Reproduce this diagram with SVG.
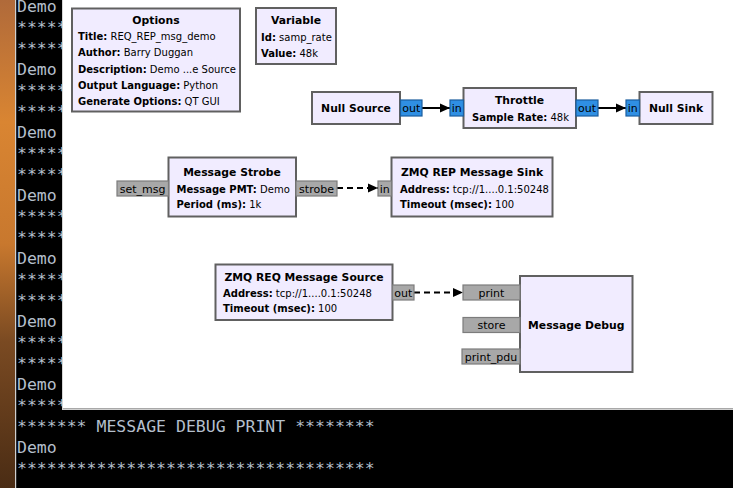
<svg xmlns="http://www.w3.org/2000/svg" width="733" height="488" viewBox="0 0 733 488">
<defs>
<linearGradient id="wall" x1="0" y1="0" x2="0" y2="1">
<stop offset="0" stop-color="#b06a3a"/>
<stop offset="0.25" stop-color="#d98532"/>
<stop offset="0.5" stop-color="#c8782e"/>
<stop offset="0.7" stop-color="#7a4a22"/>
<stop offset="1" stop-color="#4a2c14"/>
</linearGradient>
<marker id="ah" viewBox="0 0 10 10" refX="10" refY="5" markerWidth="10" markerHeight="10" markerUnits="userSpaceOnUse" orient="auto">
<path d="M0,0.5 L10,5 L0,9.5 z" fill="#000"/>
</marker>
<style>
.term{font-family:"DejaVu Sans Mono","Liberation Mono",monospace;font-size:16.5px;fill:#b4bfcc}
.blk{fill:#F1ECFF;stroke:#606060;stroke-width:2}
.t{font-family:"DejaVu Sans","Noto Sans",sans-serif;font-size:10px;fill:#000}
.b{font-weight:bold}
.ttl{font-weight:bold;text-anchor:middle;font-size:10.8px}
.mp{fill:#a8a8a8;stroke:#7c7c7c;stroke-width:1.2}
.sp{fill:#2f8fe3;stroke:#1b5e9e;stroke-width:1.2}
.pl{font-family:"DejaVu Sans","Noto Sans",sans-serif;font-size:11px;fill:#000;text-anchor:middle}
.c{fill:none;stroke:#000;stroke-width:2;marker-end:url(#ah)}
.d{stroke-dasharray:6,4}
</style>
</defs>
<rect x="0" y="0" width="733" height="488" fill="#000"/>
<rect x="0" y="0" width="15" height="488" fill="url(#wall)"/>
<rect x="15" y="0" width="1.2" height="488" fill="#cfcfcf"/>
<g id="terminal" class="term">
<text x="17" y="12">Demo</text>
<text x="17" y="32.7">*****</text>
<text x="17" y="53.7">*****</text>
<text x="17" y="74.7">Demo</text>
<text x="17" y="95.7">*****</text>
<text x="17" y="116.7">*****</text>
<text x="17" y="137.7">Demo</text>
<text x="17" y="158.7">*****</text>
<text x="17" y="179.7">*****</text>
<text x="17" y="200.7">Demo</text>
<text x="17" y="221.7">*****</text>
<text x="17" y="242.7">*****</text>
<text x="17" y="263.7">Demo</text>
<text x="17" y="284.7">*****</text>
<text x="17" y="305.7">*****</text>
<text x="17" y="326.7">Demo</text>
<text x="17" y="347.7">*****</text>
<text x="17" y="368.7">*****</text>
<text x="17" y="389.7">Demo</text>
<text x="17" y="410.7">*****</text>
<text x="17" y="431.7">******* MESSAGE DEBUG PRINT ********</text>
<text x="17" y="452.7">Demo</text>
<text x="17" y="473.7">************************************</text>
</g>
<rect x="63" y="0" width="670" height="408.5" fill="#fff"/>
<line x1="62.5" y1="0" x2="62.5" y2="409" stroke="#d6d6d6" stroke-width="1"/>
<line x1="62" y1="409.2" x2="733" y2="409.2" stroke="#d0d0d0" stroke-width="1.5"/>

<g id="connectors">
<line class="c" x1="422" y1="108" x2="450" y2="108"/>
<line class="c" x1="598" y1="108" x2="626" y2="108"/>
<line class="c d" x1="337" y1="188" x2="378" y2="188"/>
<line class="c d" x1="414" y1="292.5" x2="463" y2="292.5"/>
</g>

<g id="options">
<rect class="blk" x="72" y="8.5" width="168" height="103"/>
<text class="t ttl" x="156" y="24">Options</text>
<text class="t" x="78" y="39.5"><tspan class="b">Title:</tspan> REQ_REP_msg_demo</text>
<text class="t" x="78" y="56"><tspan class="b">Author:</tspan> Barry Duggan</text>
<text class="t" x="78" y="72.5"><tspan class="b">Description:</tspan> Demo ...e Source</text>
<text class="t" x="78" y="89"><tspan class="b">Output Language:</tspan> Python</text>
<text class="t" x="78" y="104.5"><tspan class="b">Generate Options:</tspan> QT GUI</text>
</g>

<g id="variable">
<rect class="blk" x="256" y="8" width="80" height="56"/>
<text class="t ttl" x="296" y="24">Variable</text>
<text class="t" x="261" y="40.5"><tspan class="b">Id:</tspan> samp_rate</text>
<text class="t" x="261" y="56.5"><tspan class="b">Value:</tspan> 48k</text>
</g>

<g id="null_source">
<rect class="blk" x="312" y="92" width="88" height="32"/>
<text class="t ttl" x="356" y="112">Null Source</text>
<rect class="sp" x="400.5" y="100" width="21.5" height="16"/>
<text class="pl" x="411.3" y="112">out</text>
</g>

<g id="throttle">
<rect class="blk" x="463.5" y="88" width="112.5" height="40"/>
<text class="t ttl" x="519.5" y="104">Throttle</text>
<text class="t" x="472" y="120.5"><tspan class="b">Sample Rate:</tspan> 48k</text>
<rect class="sp" x="450" y="100" width="13.5" height="16"/>
<text class="pl" x="456.7" y="112">in</text>
<rect class="sp" x="576" y="100" width="22" height="16"/>
<text class="pl" x="587" y="112">out</text>
</g>

<g id="null_sink">
<rect class="blk" x="639.5" y="92" width="73" height="32"/>
<text class="t ttl" x="676" y="112">Null Sink</text>
<rect class="sp" x="626" y="100" width="13.5" height="16"/>
<text class="pl" x="632.7" y="112">in</text>
</g>

<g id="message_strobe">
<rect class="blk" x="168.5" y="157.5" width="127.5" height="59"/>
<text class="t ttl" x="232" y="176">Message Strobe</text>
<text class="t" x="176.5" y="192.5"><tspan class="b">Message PMT:</tspan> Demo</text>
<text class="t" x="176.5" y="208"><tspan class="b">Period (ms):</tspan> 1k</text>
<rect class="mp" x="117" y="181" width="51.5" height="15"/>
<text class="pl" x="142.7" y="192.5">set_msg</text>
<rect class="mp" x="296" y="181" width="41" height="15"/>
<text class="pl" x="316.5" y="192.5">strobe</text>
</g>

<g id="zmq_rep_sink">
<rect class="blk" x="391.5" y="157.5" width="161" height="59"/>
<text class="t ttl" x="472" y="176">ZMQ REP Message Sink</text>
<text class="t" x="400" y="192.5"><tspan class="b">Address:</tspan> tcp://1....0.1:50248</text>
<text class="t" x="400" y="208"><tspan class="b">Timeout (msec):</tspan> 100</text>
<rect class="mp" x="378" y="181" width="13.5" height="15"/>
<text class="pl" x="384.7" y="192.5">in</text>
</g>

<g id="zmq_req_source">
<rect class="blk" x="215.5" y="264.5" width="177" height="55.5"/>
<text class="t ttl" x="304" y="280.5">ZMQ REQ Message Source</text>
<text class="t" x="223" y="296.5"><tspan class="b">Address:</tspan> tcp://1....0.1:50248</text>
<text class="t" x="223" y="312"><tspan class="b">Timeout (msec):</tspan> 100</text>
<rect class="mp" x="392.5" y="285" width="21.5" height="15"/>
<text class="pl" x="403.2" y="296.5">out</text>
</g>

<g id="message_debug">
<rect class="blk" x="520" y="276" width="112.5" height="96"/>
<text class="t ttl" x="576.3" y="328.5">Message Debug</text>
<rect class="mp" x="463" y="285" width="57" height="15"/>
<text class="pl" x="491.5" y="296.5">print</text>
<rect class="mp" x="463" y="317.5" width="57" height="15"/>
<text class="pl" x="491.5" y="329">store</text>
<rect class="mp" x="462" y="349" width="58" height="15"/>
<text class="pl" x="491" y="360.5">print_pdu</text>
</g>
</svg>
